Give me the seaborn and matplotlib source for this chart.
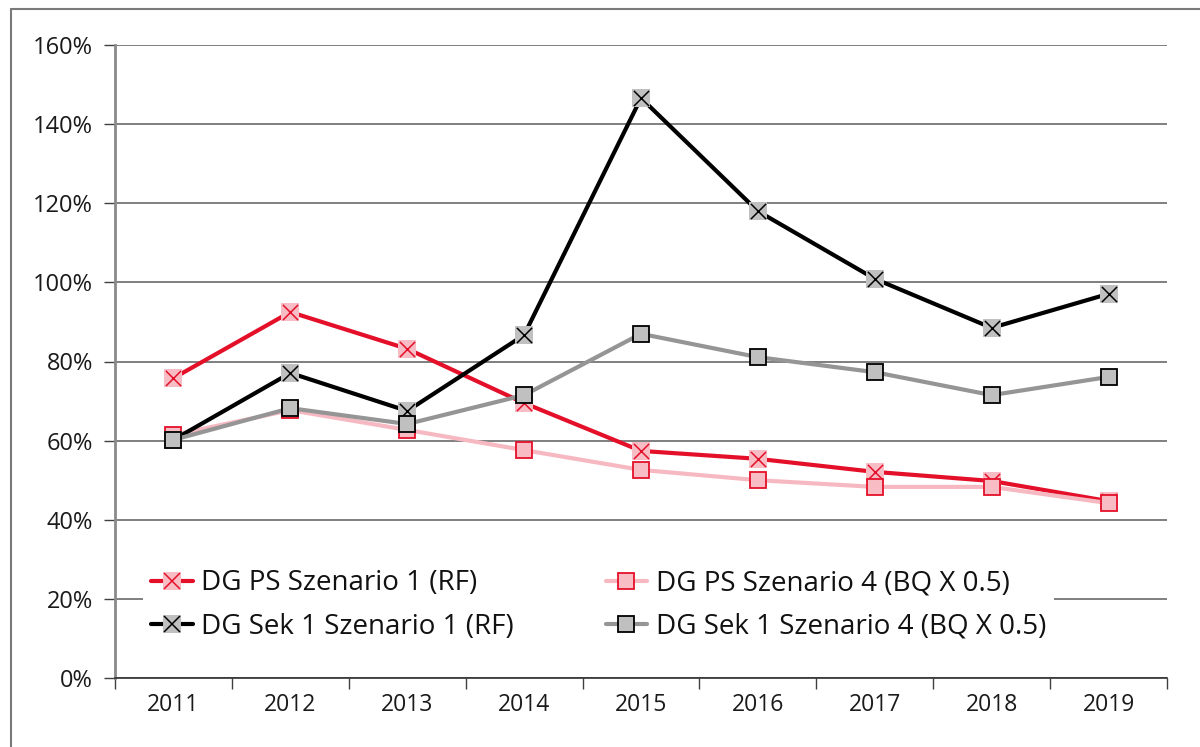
import matplotlib
matplotlib.use("Agg")
import matplotlib.pyplot as plt
from matplotlib.lines import Line2D
from matplotlib.ticker import FixedLocator, FuncFormatter, NullFormatter
import seaborn as sns
import pandas as pd

years = [2011, 2012, 2013, 2014, 2015, 2016, 2017, 2018, 2019]
ps_sz1 = [75.8, 92.5, 83.2, 69.5, 57.4, 55.4, 52.1, 49.8, 44.7]
ps_sz4 = [61.4, 67.7, 62.7, 57.6, 52.6, 50.0, 48.3, 48.3, 44.2]
sek_sz1 = [60.2, 77.1, 67.5, 86.7, 146.6, 118.0, 100.9, 88.5, 97.1]
sek_sz4 = [60.2, 68.2, 64.2, 71.5, 87.0, 81.1, 77.3, 71.5, 76.1]
labels = ["DG PS Szenario 1 (RF)", "DG PS Szenario 4 (BQ X 0.5)",
          "DG Sek 1 Szenario 1 (RF)", "DG Sek 1 Szenario 4 (BQ X 0.5)"]
y_ticks = [0, 20, 40, 60, 80, 100, 120, 140, 160]

sns.set_theme(style="white")
plt.rcParams["font.family"] = ["Open Sans", "DejaVu Sans"]

fig = plt.figure(figsize=(12, 7.47), dpi=100)
ax = fig.add_axes([115 / 1200, 1 - 678 / 747, (1167 - 115) / 1200, (678 - 45) / 747])

RED = "#e4102a"
PINK_LINE = "#f7b9c1"
PINK_FILL = "#f8bcc4"
GREY_LINE = "#959595"
GREY_FILL = "#c0c0c0"

series = [
    # values, line colour, square fill, square edge, cross colour
    (ps_sz1, RED, PINK_FILL, "none", RED),
    (ps_sz4, PINK_LINE, PINK_FILL, RED, None),
    (sek_sz1, "black", GREY_FILL, "none", "black"),
    (sek_sz4, GREY_LINE, GREY_FILL, "black", None),
]

handles = []
for i, (vals, lc, fill, edge, cross) in enumerate(series):
    df = pd.DataFrame({"Jahr": years, "Wert": vals})
    z = 3 + i
    msize = 13.5 if cross else 11
    sns.lineplot(data=df, x="Jahr", y="Wert", ax=ax, color=lc, linewidth=3,
                 marker="s", markersize=msize,
                 markerfacecolor=fill, markeredgecolor=edge,
                 markeredgewidth=0 if cross else 1.3, zorder=z)
    sq = Line2D([], [], color=lc, lw=3, marker="s", markersize=msize,
                markerfacecolor=fill, markeredgecolor=edge,
                markeredgewidth=0 if cross else 1.3)
    if cross:
        sns.scatterplot(data=df, x="Jahr", y="Wert", ax=ax, marker="x",
                        s=120, color=cross, linewidth=1.1, zorder=z + 0.5)
        cr = Line2D([], [], ls="none", marker="x", markersize=11,
                    color=cross, markeredgewidth=1.1)
        handles.append((sq, cr))
    else:
        handles.append(sq)

ax.set_xlim(2010.5, 2019.5)
ax.set_ylim(0, 160)
ax.set_xlabel("")
ax.set_ylabel("")

# Category ticks on boundaries, labels centred on the categories
ax.xaxis.set_major_locator(FixedLocator([y - 0.5 for y in years] + [2019.5]))
ax.xaxis.set_major_formatter(NullFormatter())
ax.xaxis.set_minor_locator(FixedLocator(years))
ax.xaxis.set_minor_formatter(FuncFormatter(lambda v, p: f"{int(round(v))}"))
ax.tick_params(axis="x", which="major", direction="out", length=8, width=1,
               color="#404040", bottom=True)
ax.tick_params(axis="x", which="minor", length=0, pad=11, labelsize=16.5,
               labelcolor="#1a1a1a", bottom=True)

ax.yaxis.set_major_locator(FixedLocator(y_ticks))
ax.yaxis.set_major_formatter(FuncFormatter(lambda v, p: f"{v:.0f}%"))
ax.tick_params(axis="y", direction="out", length=8, width=1, color="#404040",
               left=True, pad=8, labelsize=17, labelcolor="#1a1a1a")

ax.grid(axis="y", color="#6a6a6a", linewidth=1.2, zorder=0)
ax.set_axisbelow(True)
for side in ["top", "right"]:
    ax.spines[side].set_visible(False)
ax.spines["left"].set_color("#8a8a8a")
ax.spines["left"].set_linewidth(2)
ax.spines["bottom"].set_color("#303030")
ax.spines["bottom"].set_linewidth(1.2)

order = [0, 2, 1, 3]
leg = ax.legend([handles[k] for k in order], [labels[k] for k in order],
                ncol=2, loc="upper left",
                bbox_to_anchor=(129 / 1200, 1 - 547 / 747),
                bbox_transform=fig.transFigure, frameon=True, fontsize=20,
                handlelength=1.5, handletextpad=0.3, columnspacing=3.3,
                labelspacing=0.55, borderpad=0.3, framealpha=1)
leg.get_frame().set_edgecolor("white")
leg.get_frame().set_linewidth(0)
leg.set_zorder(2)
for t in leg.get_texts():
    t.set_color("#111111")

# Outer chart frame (left and top edges)
fig.add_artist(Line2D([10.5 / 1200, 10.5 / 1200], [0, 1 - 8.5 / 747],
                      color="#7a7a7a", lw=1.5))
fig.add_artist(Line2D([10.5 / 1200, 1], [1 - 8.5 / 747, 1 - 8.5 / 747],
                      color="#7a7a7a", lw=1.5))

fig.savefig("out.png", dpi=100)
